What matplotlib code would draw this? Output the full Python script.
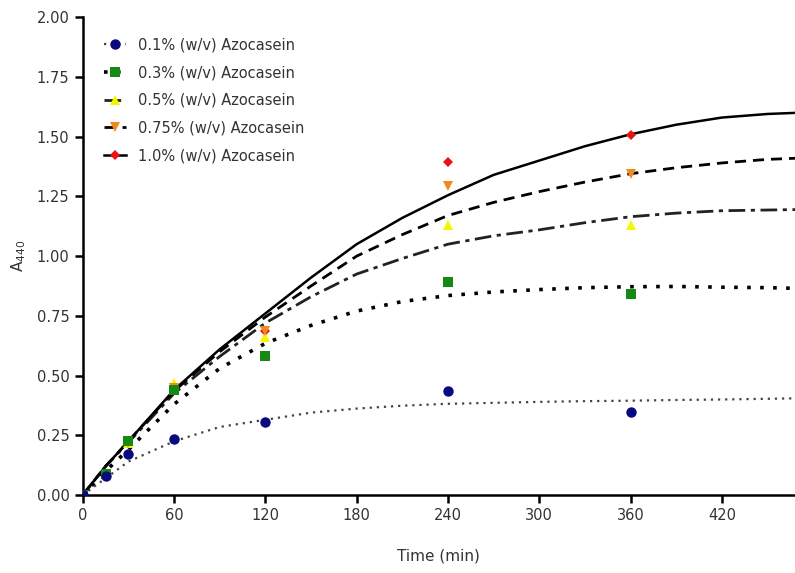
import matplotlib
matplotlib.use("Agg")
import matplotlib.pyplot as plt

# measured points
time_pts = [0, 15, 30, 60, 120, 240, 360]
conc_01 = [0, 0.08, 0.17, 0.235, 0.305, 0.435, 0.347]
conc_03 = [0, 0.09, 0.225, 0.44, 0.58, 0.89, 0.84]
conc_05 = [0, 0.09, 0.22, 0.47, 0.662, 1.13, 1.13]
conc_075 = [0, 0.09, 0.22, 0.45, 0.685, 1.295, 1.343]
conc_10 = [0, 0.09, 0.22, 0.45, 0.685, 1.395, 1.506]

# fitted curves
time_fit = [0, 15, 30, 60, 90, 120, 150, 180, 210, 240, 270, 300, 330, 360, 390, 420, 450, 470]
fit_01 = [0, 0.07, 0.14, 0.225, 0.285, 0.315, 0.345, 0.362, 0.374, 0.382, 0.386, 0.39,
          0.393, 0.395, 0.398, 0.40, 0.403, 0.405]
fit_03 = [0, 0.10, 0.19, 0.38, 0.53, 0.635, 0.71, 0.77, 0.81, 0.835, 0.85, 0.86,
          0.868, 0.872, 0.873, 0.870, 0.868, 0.865]
fit_05 = [0, 0.12, 0.22, 0.425, 0.58, 0.72, 0.83, 0.925, 0.99, 1.05, 1.085, 1.11,
          1.14, 1.165, 1.18, 1.19, 1.193, 1.195]
fit_075 = [0, 0.12, 0.225, 0.435, 0.60, 0.745, 0.875, 1.0, 1.09, 1.17, 1.225, 1.27,
           1.31, 1.345, 1.37, 1.39, 1.405, 1.41]
fit_10 = [0, 0.12, 0.225, 0.44, 0.61, 0.76, 0.91, 1.05, 1.16, 1.255, 1.34, 1.40,
          1.46, 1.51, 1.55, 1.58, 1.595, 1.60]

labels = ["0.1% (w/v) Azocasein", "0.3% (w/v) Azocasein", "0.5% (w/v) Azocasein",
          "0.75% (w/v) Azocasein", "1.0% (w/v) Azocasein"]

series = [
    (conc_01, fit_01, "o", "#0a0a80", (0, (1, 2.2)), 1.6, "#444444", 7.5),
    (conc_03, fit_03, "s", "#148a14", (0, (1, 2.6)), 2.6, "black", 7.5),
    (conc_05, fit_05, "^", "#f6f600", (0, (6, 2, 1.5, 2)), 2.0, "#222222", 7.5),
    (conc_075, fit_075, "v", "#f08a1e", (0, (4, 2.5)), 2.0, "black", 7.5),
    (conc_10, fit_10, "D", "#ee1111", "-", 1.8, "black", 5.5),
]

fig = plt.figure(figsize=(7.95, 5.73), dpi=100)
ax = fig.add_axes([0.104, 0.136, 0.896, 0.834])

handles = []
zs = [7, 6, 4, 5, 3]
for (pts, fit, mk, col, ls, lw, lcol, ms), lab, z in zip(series, labels, zs):
    ax.plot(time_fit, fit, linestyle=ls, color=lcol, linewidth=lw, zorder=2)
    ax.plot(time_pts, pts, linestyle="none", marker=mk, color=col, markersize=ms,
            markeredgewidth=0, zorder=z)
    h, = ax.plot([], [], linestyle=ls, color=lcol, linewidth=lw, marker=mk,
                 markerfacecolor=col, markeredgewidth=0, markersize=ms)
    handles.append(h)

ax.set_xlim(0, 468)
ax.set_ylim(0, 2.0)
ax.set_xticks([0, 60, 120, 180, 240, 300, 360, 420])
ax.set_yticks([0, 0.25, 0.5, 0.75, 1.0, 1.25, 1.5, 1.75, 2.0])
ax.set_yticklabels([f"{v:.2f}" for v in ax.get_yticks()])
for s in ["top", "right"]:
    ax.spines[s].set_visible(False)
for s in ["left", "bottom"]:
    ax.spines[s].set_linewidth(1.8)
    ax.spines[s].set_color("black")
ax.tick_params(direction="out", length=6, width=1.8, labelsize=10.5, labelcolor="#333333")
ax.set_xlabel("Time (min)", fontsize=11, labelpad=18, color="#333333")
ax.set_ylabel("A$_{440}$", fontsize=11, labelpad=6, color="#333333")

leg = ax.legend(handles, labels, loc="upper left", bbox_to_anchor=(0.012, 0.985), frameon=False,
                fontsize=10.5, handlelength=1.5, labelspacing=0.87, handletextpad=0.8)
for t in leg.get_texts():
    t.set_color("#333333")

fig.savefig("out.png", dpi=100)
